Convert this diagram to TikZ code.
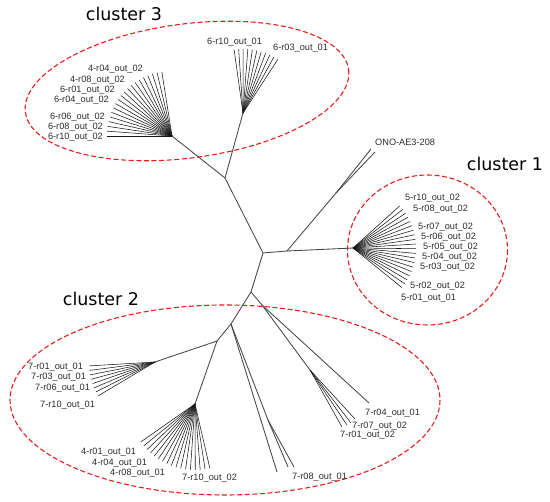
\documentclass[tikz,border=0pt]{standalone}
\usepackage{fontspec}
\setmainfont{Liberation Sans}
\newfontfamily\clfont{DejaVu Sans}
\usetikzlibrary{calc}
\definecolor{ringred}{RGB}{228,30,30}
\definecolor{branchgray}{RGB}{70,70,70}
\definecolor{labelgray}{RGB}{45,45,45}
\begin{document}
\begin{tikzpicture}[x=1pt,y=-1pt,
  br/.style={draw=branchgray, line width=0.85pt},
  fan/.style={draw=black!90, line width=0.55pt},
  lbl/.style={font=\fontsize{9.2}{10}\selectfont, text=labelgray, inner sep=0pt},
  clu/.style={font=\clfont\fontsize{17.5}{20}\selectfont, inner sep=0pt},
  ring/.style={draw=ringred, dash pattern=on 5pt off 2.6pt, line width=1.1pt}]
\useasboundingbox (0,0) rectangle (550,502);

% ---- dashed cluster outlines
\draw[ring, rotate around={7.5:(187,91)}] (187,91) ellipse [x radius=163, y radius=67];
\draw[ring] (427.5,250) ellipse [x radius=80, y radius=75];
\draw[ring] (225,400) ellipse [x radius=215, y radius=95];

% ---- internal nodes
\coordinate (root) at (263,253);
\coordinate (n3) at (225,178);
\coordinate (h3a) at (172,136);
\coordinate (h3b) at (243,113);
\coordinate (nO) at (287,251);
\coordinate (nO2) at (336,193);
\coordinate (tO1) at (371,149);
\coordinate (tO2) at (375,152);
\coordinate (h1) at (353,248);
\coordinate (n2) at (251,292);
\coordinate (nS) at (262,305);
\coordinate (h7) at (310,370);
\coordinate (t74) at (369,403);
\coordinate (t7a) at (342,427);
\coordinate (t7b) at (347,425);
\coordinate (t7c) at (351,423);
\coordinate (t7d) at (355,419);
\coordinate (n2b) at (231,324);
\coordinate (n2c) at (217,341);
\coordinate (h2a) at (155,362);
\coordinate (h2b) at (195,404);
\coordinate (t8a) at (277,472);
\coordinate (n8) at (268,420);
\coordinate (t8b) at (288,467);
\coordinate (t8c) at (294,467);

% ---- branches
\draw[br] (root) -- (n3);
\draw[br] (n3) -- (h3a);
\draw[br] (n3) -- (h3b);
\draw[br] (root) -- (nO);
\draw[br] (nO) -- (nO2);
\draw[br] (nO2) -- (tO1);
\draw[br] (nO2) -- (tO2);
\draw[br] (nO) -- (h1);
\draw[br] (root) -- (n2);
\draw[br] (n2) -- (nS);
\draw[br] (nS) -- (t74);
\draw[br] (nS) -- (h7);
\draw[br] (n2) -- (n2b);
\draw[br] (n2b) -- (n2c);
\draw[br] (n2c) -- (h2a);
\draw[br] (n2c) -- (h2b);
\draw[br] (n2b) -- (t8a);
\draw[br] (n2b) -- (n8);
\draw[br] (n8) -- (t8b);
\draw[br] (n8) -- (t8c);
\foreach \t in {t7a,t7b,t7c,t7d} \draw[fan] (h7) -- (\t);

% ---- fans (screen angles, clockwise positive)
\foreach \i in {0,...,19}{
  \pgfmathsetmacro\ang{-42+\i*81/19}
  \coordinate (c1t\i) at ($(h1)+(\ang:63)$);
  \draw[fan] (h1) -- (c1t\i);}
\foreach \i in {0,...,19}{
  \pgfmathsetmacro\ang{-99-\i*81/19}
  \coordinate (c3a\i) at ($(h3a)+(\ang:65)$);
  \draw[fan] (h3a) -- (c3a\i);}
\foreach \i in {0,...,10}{
  \pgfmathsetmacro\ang{-98+\i*41/10}
  \coordinate (c3b\i) at ($(h3b)+(\ang:64)$);
  \draw[fan] (h3b) -- (c3b\i);}
\foreach \i in {0,...,7}{
  \pgfmathsetmacro\ang{176.6-\i*27.4/7}
  \coordinate (c2a\i) at ($(h2a)+(\ang:66)$);
  \draw[fan] (h2a) -- (c2a\i);}
\foreach \i in {0,...,16}{
  \pgfmathsetmacro\ang{145-\i*68/16}
  \coordinate (c2b\i) at ($(h2b)+(\ang:66)$);
  \draw[fan] (h2b) -- (c2b\i);}

% ---- leaf labels
\node[lbl, anchor=west] (l5r10) at (405,198) {5-r10\_out\_02};
\node[lbl, anchor=west] (l5r08) at (413,209) {5-r08\_out\_02};
\node[lbl, anchor=west] (l5r07) at (418,227) {5-r07\_out\_02};
\node[lbl, anchor=west] (l5r06) at (421,237) {5-r06\_out\_02};
\node[lbl, anchor=west] (l5r05) at (423,247) {5-r05\_out\_02};
\node[lbl, anchor=west] (l5r04) at (422,257) {5-r04\_out\_02};
\node[lbl, anchor=west] (l5r03) at (420,267) {5-r03\_out\_02};
\node[lbl, anchor=west] (l5r02) at (410,286) {5-r02\_out\_02};
\node[lbl, anchor=west] (l5r01) at (401,298) {5-r01\_out\_01};

\node[lbl, anchor=east] (l4r04b) at (143,69) {4-r04\_out\_02};
\node[lbl, anchor=east] (l4r08b) at (125,80) {4-r08\_out\_02};
\node[lbl, anchor=east] (l6r01b) at (115,90) {6-r01\_out\_02};
\node[lbl, anchor=east] (l6r04b) at (109,100) {6-r04\_out\_02};
\node[lbl, anchor=east] (l6r06b) at (105,117) {6-r06\_out\_02};
\node[lbl, anchor=east] (l6r08b) at (103,127) {6-r08\_out\_02};
\node[lbl, anchor=east] (l6r10b) at (103,137) {6-r10\_out\_02};
\node[lbl, anchor=west] (l6r10a) at (207,42) {6-r10\_out\_01};
\node[lbl, anchor=west] (l6r03a) at (273,48) {6-r03\_out\_01};
\node[lbl, anchor=west] (lono) at (375,142) {ONO-AE3-208};

\node[lbl, anchor=west] (l7r01a) at (28,367) {7-r01\_out\_01};
\node[lbl, anchor=west] (l7r03a) at (31,377) {7-r03\_out\_01};
\node[lbl, anchor=west] (l7r06a) at (35,388) {7-r06\_out\_01};
\node[lbl, anchor=west] (l7r10a) at (40,405) {7-r10\_out\_01};
\node[lbl, anchor=west] (l4r01a) at (81,452) {4-r01\_out\_01};
\node[lbl, anchor=west] (l4r04a) at (92,463) {4-r04\_out\_01};
\node[lbl, anchor=west] (l4r08a) at (110,473) {4-r08\_out\_01};
\node[lbl, anchor=west] (l7r10b) at (182,478) {7-r10\_out\_02};
\node[lbl, anchor=west] (l7r08a) at (292,477) {7-r08\_out\_01};
\node[lbl, anchor=west] (l7r04a) at (365,413) {7-r04\_out\_01};
\node[lbl, anchor=west] (l7r07b) at (352,426) {7-r07\_out\_02};
\node[lbl, anchor=west] (l7r01b) at (340,435) {7-r01\_out\_02};

% ---- cluster titles
\node[clu] (cl3) at (124,14) {cluster 3};
\node[clu] (cl1) at (505,164) {cluster 1};
\node[clu] (cl2) at (101,299) {cluster 2};
\end{tikzpicture}
\end{document}
